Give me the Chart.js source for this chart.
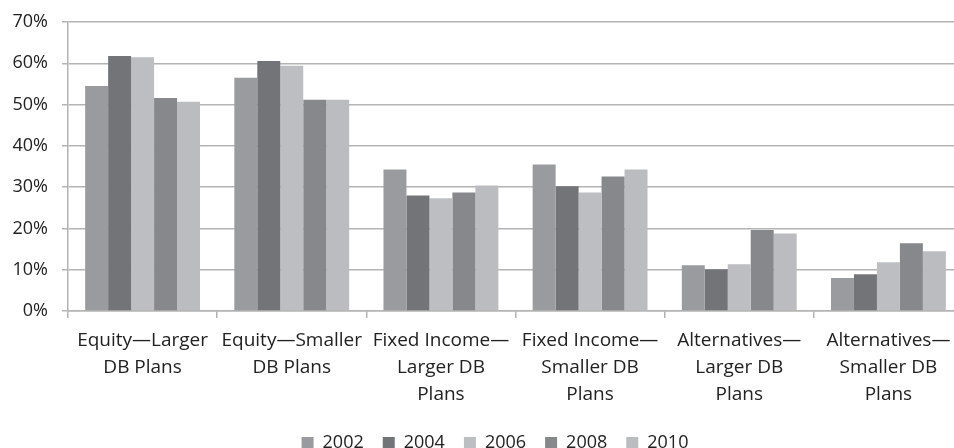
<!DOCTYPE html>
<html>
<head>
<meta charset="utf-8">
<script src="https://cdn.jsdelivr.net/npm/chart.js@4"></script>
<style>
  html, body { margin: 0; padding: 0; background: #fff; overflow: hidden; }
  #wrap { position: absolute; left: 0; top: 0; width: 990px; height: 462px; }
</style>
</head>
<body>
<div id="wrap"><canvas id="chart"></canvas></div>
<script>
const categories = [
  ['Equity\u2014Larger', 'DB Plans'],
  ['Equity\u2014Smaller', 'DB Plans'],
  ['Fixed Income\u2014', 'Larger DB', 'Plans'],
  ['Fixed Income\u2014', 'Smaller DB', 'Plans'],
  ['Alternatives\u2014', 'Larger DB', 'Plans'],
  ['Alternatives\u2014', 'Smaller DB', 'Plans']
];
const years = ['2002', '2004', '2006', '2008', '2010'];
const share2002 = [54.5, 56.5, 34.3, 35.5, 11.1, 8.0];
const share2004 = [61.8, 60.6, 28.0, 30.2, 10.1, 8.9];
const share2006 = [61.5, 59.4, 27.3, 28.7, 11.3, 11.8];
const share2008 = [51.6, 51.2, 28.7, 32.6, 19.6, 16.4];
const share2010 = [50.7, 51.2, 30.4, 34.3, 18.8, 14.5];
const yTicks = [0, 10, 20, 30, 40, 50, 60, 70];

const colors = ['#9a9b9f', '#737478', '#bdbec2', '#87888c', '#bbbcc0'];
const series = [share2002, share2004, share2006, share2008, share2010];

const font = { family: 'Open Sans', size: 18 };
const tickFont = { family: 'Open Sans', size: 18, lineHeight: 0.9 };
const labelFont = { family: 'Open Sans', size: 19, lineHeight: 1.42 };
const textColor = '#222';
const gridColor = '#b4b4b4';

// the legend is centred under the whole plot, which runs past the right edge
const legendNudge = {
  id: 'legendNudge',
  afterLayout(chart) {
    chart.legend.left += 11;
    chart.legend.right += 11;
  }
};

new Chart(document.getElementById('chart'), {
  type: 'bar',
  data: {
    labels: categories,
    datasets: series.map((vals, i) => ({
      label: years[i],
      data: vals,
      backgroundColor: colors[i],
      borderWidth: 0,
      categoryPercentage: 0.77,
      barPercentage: 1
    }))
  },
  options: {
    responsive: true,
    maintainAspectRatio: false,
    animation: false,
    layout: { padding: { left: 5, right: 27, top: 4, bottom: 0 } },
    plugins: {
      tooltip: { enabled: false },
      legend: {
        position: 'bottom',
        labels: {
          font: font,
          color: textColor,
          boxWidth: 12,
          boxHeight: 12,
          padding: 19
        }
      }
    },
    scales: {
      x: {
        afterFit: (scale) => { scale.height = 104; },
        grid: {
          display: true,
          drawOnChartArea: false,
          color: gridColor,
          lineWidth: 1.5,
          tickLength: 7
        },
        border: { color: gridColor, width: 1.5 },
        ticks: { font: labelFont, color: textColor, padding: 9, maxRotation: 0, autoSkip: false }
      },
      y: {
        min: 0,
        max: 70,
        afterFit: (scale) => { scale.width = 63; },
        afterBuildTicks: (scale) => { scale.ticks = yTicks.map(v => ({ value: v })); },
        grid: { color: gridColor, lineWidth: 1.5, tickLength: 6 },
        border: { color: gridColor, width: 1.5 },
        ticks: {
          font: tickFont,
          color: textColor,
          padding: 14,
          callback: (v) => v + '%'
        }
      }
    }
  },
  plugins: [legendNudge]
});
</script>
</body>
</html>
